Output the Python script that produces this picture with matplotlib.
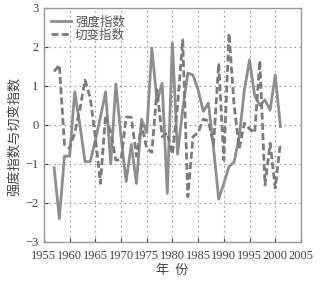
import matplotlib
matplotlib.use("Agg")
import matplotlib.pyplot as plt

plt.rcParams['font.family'] = ['Liberation Serif', 'Noto Sans CJK SC', 'DejaVu Sans']

years = list(range(1957, 2002))
strength = [-1.1, -2.4, -0.8, -0.8, 0.85, 0.0, -0.94, -0.94, -0.4, 0.2,
            0.85, -1.0, 1.05, -0.3, -1.45, -0.5, -1.5, 0.15, -0.2, 1.97,
            0.6, 1.07, -1.75, 2.1, -0.75, 0.4, 1.33, 1.28, 0.9, 0.35,
            0.56, -0.6, -1.9, -1.5, -1.07, -0.95, -0.3, 0.9, 1.67, 0.75,
            0.5, 0.64, 0.38, 1.28, -0.04]
shear = [1.37, 1.54, -0.5, -0.6, -0.2, 0.4, 1.15, 0.7, -0.3, -1.5,
         0.25, -0.2, -0.9, -0.9, 0.2, 0.2, -0.8, 0.0, -0.6, -0.7,
         0.9, -0.3, -0.2, -0.75, 0.5, 2.18, -1.84, -0.3, -0.2, 0.15,
         0.1, -0.5, 1.58, -0.9, 2.35, 0.5, -0.6, 0.05, -0.1, -0.2,
         1.65, -1.54, -0.47, -1.62, -0.47]
labels = ['强度指数', '切变指数']
xticks = list(range(1955, 2006, 5))
yticks = list(range(-3, 4))

fig = plt.figure(figsize=(3.3, 2.84), dpi=100)
ax = fig.add_axes([0.133, 0.148, 0.779, 0.824])
ax.plot(years, strength, color='#8e8e8e', lw=2.0, label=labels[0])
ax.plot(years, shear, color='#7c7c7c', lw=2.0, ls=(0, (2.5, 1.2)), label=labels[1])
ax.set_xlim(1955, 2005)
ax.set_ylim(-3, 3)
ax.set_xticks(xticks)
ax.set_yticks(yticks)
ax.set_yticklabels(['\u22123', '\u22122', '\u22121', '0', '1', '2', '3'])
ax.grid(True, ls=(0, (1.5, 3)), color='#9a9a9a', lw=0.8)
ax.tick_params(direction='in', length=3, labelsize=9, colors='#444444')
ax.tick_params(axis='x', pad=6)
ax.tick_params(axis='y', pad=4)
for s in ax.spines.values():
    s.set_color('#999999')
    s.set_linewidth(1.0)
ax.set_xlabel('年  份', family=['Noto Sans CJK SC'], fontsize=9.5, color='#444444', labelpad=1)
ax.set_ylabel('强度指数与切变指数', family=['Noto Sans CJK SC'], fontsize=9.5, color='#444444')
ax.yaxis.set_label_coords(-0.09, 0.45)
leg = ax.legend(loc='upper left', frameon=False, prop={'family': ['Noto Sans CJK SC'], 'size': 9},
                handlelength=1.6, handletextpad=0.3, borderaxespad=0.3, labelspacing=0.0,
                borderpad=0.3)
for t in leg.get_texts():
    t.set_color('#555555')
fig.savefig('out.png', dpi=100)
